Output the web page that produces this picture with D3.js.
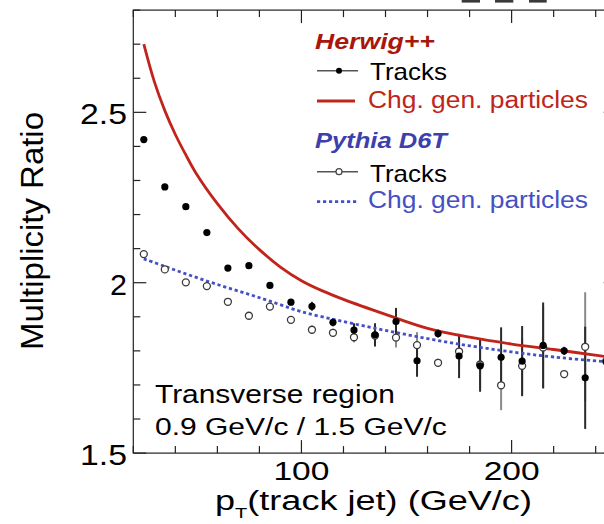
<!DOCTYPE html>
<html><head><meta charset="utf-8">
<script src="https://cdn.jsdelivr.net/npm/d3@7"></script>
<style>
html,body{margin:0;padding:0;background:#fff;}
svg{display:block;font-family:"Liberation Sans",Arial,Helvetica,sans-serif;}
</style></head><body>
<svg id="chart" width="604" height="524"></svg>
<script>
// Track-jet pT bin centres (GeV/c)
const ptBins = [25,35,45,55,65,75,85,95,105,115,125,135,145,155,165,175,185,195,205,215,225,235,245];

// Herwig++ : multiplicity ratio from reconstructed tracks
const herwigTracks    = [2.420,2.281,2.223,2.147,2.043,2.050,1.992,1.943,1.931,1.884,1.861,1.847,1.886,1.771,1.851,1.785,1.756,1.781,1.770,1.816,1.800,1.721,1.768];
const herwigTracksErr = [0.006,0.006,0.006,0.007,0.007,0.008,0.008,0.009,0.013,0.012,0.020,0.034,0.040,0.047,0.012,0.065,0.076,0.088,0.103,0.126,0.012,0.150,0.150];

// Pythia D6T : multiplicity ratio from reconstructed tracks
const pythiaTracks    = [2.084,2.039,2.001,1.990,1.944,1.903,1.930,1.891,1.862,1.853,1.840,1.845,1.839,1.817,1.765,1.798,1.760,1.699,1.756,1.810,1.732,1.812,1.770];
const pythiaTracksErr = [0.006,0.006,0.006,0.007,0.007,0.008,0.008,0.009,0.012,0.012,0.015,0.030,0.029,0.038,0.012,0.044,0.070,0.073,0.082,0.120,0.012,0.160,0.150];

// Generator-level charged particles
const herwigGenPt = [25,30,35,40,45,50,60,70,80,90,100,110,120,140,160,180,200,220,245];
const herwigGen   = [2.700,2.590,2.505,2.435,2.375,2.320,2.232,2.158,2.097,2.046,2.006,1.976,1.951,1.907,1.866,1.840,1.820,1.804,1.783];
const pythiaGenPt = [25,35,45,55,65,75,85,100,120,140,160,180,200,220,245];
const pythiaGen   = [2.070,2.048,2.026,2.005,1.985,1.966,1.946,1.915,1.886,1.860,1.836,1.815,1.797,1.782,1.768];

// Axis ticks and labels
const xMajorTicks = [100, 200];
const xTickLabels = ["100", "200"];
const yMajorTicks = [1.5, 2, 2.5];
const yTickLabels = ["1.5", "2", "2.5"];

const svg = d3.select("#chart");
const X0 = 133.3, X1 = 616.7, Y0 = 453.1, Y1 = 10.1;
const x = d3.scaleLinear().domain([20, 250]).range([X0, X1]);
const y = d3.scaleLinear().domain([1.5, 2.8]).range([Y0, Y1]);

const RED = "#c0241a", RED_TXT = "#a8160c";
const BLUE = "#4550c4", BLUE_TXT = "#3c40ac";

// Text helper: stretches a label horizontally to a given width
function label(parent, str, px, py, o) {
  o = o || {};
  const g = parent.append("g");
  const t = g.append("text").attr("x", 0).attr("y", 0)
    .attr("font-size", o.size || 20)
    .attr("text-anchor", o.anchor || "start")
    .attr("fill", o.fill || "#000")
    .attr("font-weight", o.weight || "normal")
    .attr("font-style", o.style || "normal")
    .text(str);
  let k = 1;
  if (o.width) k = o.width / t.node().getComputedTextLength();
  g.attr("transform", `translate(${px},${py}) scale(${k},1)`);
  return t;
}

// Clip for plotted curves
svg.append("clipPath").attr("id", "frame")
  .append("rect").attr("x", X0).attr("y", Y1).attr("width", X1 - X0).attr("height", Y0 - Y1);

// Cropped heading fragment above the frame
const head = svg.append("g").attr("fill", "#3a3a3a");
[[461.7, 480], [495, 513.3], [529, 546.7]].forEach(([a, b]) =>
  head.append("rect").attr("x", a).attr("y", 0).attr("width", b - a).attr("height", 2.6));

// Frame and ticks
const axes = svg.append("g").attr("stroke", "#222").attr("stroke-width", 1.2).attr("fill", "none");
axes.append("rect").attr("x", X0).attr("y", Y1).attr("width", X1 - X0).attr("height", Y0 - Y1);

const xMinor = d3.range(20, 251, 20).filter(v => !xMajorTicks.includes(v));
const yMinor = d3.range(15, 29).map(v => v / 10).filter(v => !yMajorTicks.includes(v));
function xt(v, len) {
  axes.append("line").attr("x1", x(v)).attr("x2", x(v)).attr("y1", Y0).attr("y2", Y0 - len);
  axes.append("line").attr("x1", x(v)).attr("x2", x(v)).attr("y1", Y1).attr("y2", Y1 + len);
}
function yt(v, len) {
  axes.append("line").attr("y1", y(v)).attr("y2", y(v)).attr("x1", X0).attr("x2", X0 + len);
  axes.append("line").attr("y1", y(v)).attr("y2", y(v)).attr("x1", X1).attr("x2", X1 - len);
}
xMinor.forEach(v => xt(v, 7));
xMajorTicks.forEach(v => xt(v, 13));
yMinor.forEach(v => yt(v, 7));
yMajorTicks.forEach(v => yt(v, 13));

// Tick labels
xMajorTicks.forEach((v, i) => label(svg, xTickLabels[i], x(v), 479.5, {size: 25, anchor: "middle", width: 56}));
yMajorTicks.forEach((v, i) => label(svg, yTickLabels[i], 127, y(v) + 12, {size: 29, anchor: "end", width: yTickLabels[i].length === 1 ? 17 : 47}));

// Axis titles
const yTitle = svg.append("text")
  .attr("transform", "translate(43,231) rotate(-90)")
  .attr("text-anchor", "middle").attr("font-size", 32).text("Multiplicity Ratio");
yTitle.attr("textLength", 238).attr("lengthAdjust", "spacingAndGlyphs");

const xg = svg.append("g");
const xTitle = xg.append("text").attr("x", 0).attr("y", 0).attr("font-size", 27);
xTitle.append("tspan").text("p");
xTitle.append("tspan").attr("font-size", 15).attr("dy", 8).text("T");
xTitle.append("tspan").attr("dy", -8).text("(track jet) (GeV/c)");
const kx = 317 / xTitle.node().getComputedTextLength();
xg.attr("transform", `translate(215,510) scale(${kx},1)`);

// Error bars
const plot = svg.append("g").attr("clip-path", "url(#frame)");
const pyPts = ptBins.map((p, i) => ({p, v: pythiaTracks[i], e: pythiaTracksErr[i]}));
const hwPts = ptBins.map((p, i) => ({p, v: herwigTracks[i], e: herwigTracksErr[i]}));
plot.append("g").selectAll("line").data(pyPts).join("line")
  .attr("x1", d => x(d.p)).attr("x2", d => x(d.p))
  .attr("y1", d => y(d.v - d.e)).attr("y2", d => y(d.v + d.e))
  .attr("stroke", "#8a8a8a").attr("stroke-width", 2);
plot.append("g").selectAll("line").data(hwPts).join("line")
  .attr("x1", d => x(d.p)).attr("x2", d => x(d.p))
  .attr("y1", d => y(d.v - d.e)).attr("y2", d => y(d.v + d.e))
  .attr("stroke", "#2a2a2a").attr("stroke-width", 2);

// Generator-level curves
const line = d3.line().x(d => x(d[0])).y(d => y(d[1])).curve(d3.curveCatmullRom.alpha(0.5));
plot.append("path").datum(herwigGenPt.map((p, i) => [p, herwigGen[i]]))
  .attr("d", line).attr("fill", "none").attr("stroke", RED).attr("stroke-width", 2.8);
plot.append("path").datum(pythiaGenPt.map((p, i) => [p, pythiaGen[i]]))
  .attr("d", line).attr("fill", "none").attr("stroke", BLUE).attr("stroke-width", 2.8)
  .attr("stroke-dasharray", "3.2,2.8");

// Track-level markers
plot.append("g").selectAll("circle").data(pyPts).join("circle")
  .attr("cx", d => x(d.p)).attr("cy", d => y(d.v)).attr("r", 3.5)
  .attr("fill", "#fff").attr("stroke", "#3a3a3a").attr("stroke-width", 1.3);
plot.append("g").selectAll("circle").data(hwPts).join("circle")
  .attr("cx", d => x(d.p)).attr("cy", d => y(d.v)).attr("r", 3.6)
  .attr("fill", "#000");

// Legend
const lg = svg.append("g");
label(lg, "Herwig++", 315, 49, {size: 22, weight: "bold", style: "italic", fill: RED_TXT, width: 120});
lg.append("line").attr("x1", 317).attr("x2", 358).attr("y1", 70.7).attr("y2", 70.7).attr("stroke", "#555").attr("stroke-width", 1.4);
lg.append("circle").attr("cx", 339).attr("cy", 70.7).attr("r", 3).attr("fill", "#000");
label(lg, "Tracks", 370, 80, {size: 23, width: 77});
lg.append("line").attr("x1", 317).attr("x2", 355).attr("y1", 101).attr("y2", 101).attr("stroke", RED).attr("stroke-width", 2.8);
label(lg, "Chg. gen. particles", 368, 108, {size: 23, fill: RED, width: 220});

label(lg, "Pythia D6T", 315, 148, {size: 22, weight: "bold", style: "italic", fill: BLUE_TXT, width: 132});
lg.append("line").attr("x1", 317).attr("x2", 358).attr("y1", 171.7).attr("y2", 171.7).attr("stroke", "#555").attr("stroke-width", 1.4);
lg.append("circle").attr("cx", 339).attr("cy", 171.7).attr("r", 3).attr("fill", "#fff").attr("stroke", "#444").attr("stroke-width", 1.2);
label(lg, "Tracks", 370, 181.7, {size: 23, width: 77});
lg.append("line").attr("x1", 317).attr("x2", 357).attr("y1", 201.7).attr("y2", 201.7).attr("stroke", BLUE).attr("stroke-width", 2.8).attr("stroke-dasharray", "3.2,2.8");
label(lg, "Chg. gen. particles", 368, 208, {size: 23, fill: BLUE, width: 220});

// Region annotation
label(svg, "Transverse region", 155, 403, {size: 25.5, width: 240});
label(svg, "0.9 GeV/c / 1.5 GeV/c", 155, 435, {size: 24, width: 292});
</script>
</body></html>
